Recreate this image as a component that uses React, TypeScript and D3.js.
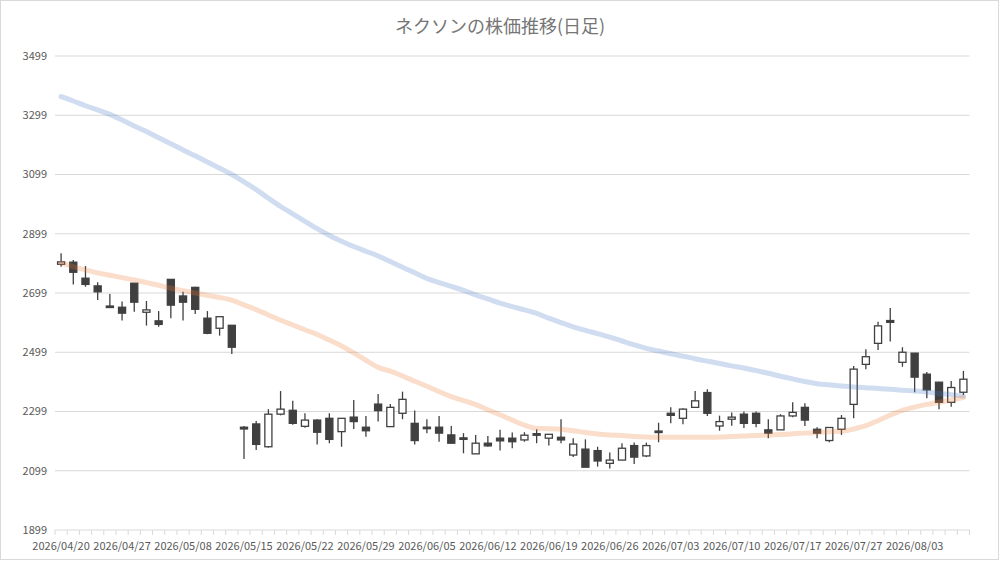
import React from "react"
import * as d3 from "d3"

// trading days shown on the category axis
const dates = [
  "2026/04/20", "2026/04/21", "2026/04/22", "2026/04/23", "2026/04/24",
  "2026/04/27", "2026/04/28", "2026/04/30", "2026/05/01", "2026/05/07",
  "2026/05/08", "2026/05/11", "2026/05/12", "2026/05/13", "2026/05/14",
  "2026/05/15", "2026/05/18", "2026/05/19", "2026/05/20", "2026/05/21",
  "2026/05/22", "2026/05/25", "2026/05/26", "2026/05/27", "2026/05/28",
  "2026/05/29", "2026/06/01", "2026/06/02", "2026/06/03", "2026/06/04",
  "2026/06/05", "2026/06/08", "2026/06/09", "2026/06/10", "2026/06/11",
  "2026/06/12", "2026/06/15", "2026/06/16", "2026/06/17", "2026/06/18",
  "2026/06/19", "2026/06/22", "2026/06/23", "2026/06/24", "2026/06/25",
  "2026/06/26", "2026/06/29", "2026/06/30", "2026/07/01", "2026/07/02",
  "2026/07/03", "2026/07/06", "2026/07/07", "2026/07/08", "2026/07/09",
  "2026/07/10", "2026/07/13", "2026/07/14", "2026/07/15", "2026/07/16",
  "2026/07/17", "2026/07/21", "2026/07/22", "2026/07/23", "2026/07/24",
  "2026/07/27", "2026/07/28", "2026/07/29", "2026/07/30", "2026/07/31",
  "2026/08/03", "2026/08/04", "2026/08/05", "2026/08/06", "2026/08/07",
]

const opens = [
  2796, 2803, 2749, 2723, 2655, 2651, 2732, 2634, 2605, 2745,
  2689, 2718, 2614, 2580, 2590, 2246, 2257, 2180, 2290, 2303,
  2249, 2270, 2276, 2231, 2280, 2246, 2324, 2248, 2293, 2259,
  2246, 2246, 2220, 2210, 2156, 2192, 2209, 2209, 2203, 2224,
  2209, 2212, 2152, 2172, 2167, 2124, 2135, 2184, 2149, 2233,
  2293, 2276, 2313, 2363, 2250, 2273, 2290, 2293, 2237, 2237,
  2284, 2313, 2239, 2201, 2239, 2323, 2458, 2529, 2606, 2465,
  2496, 2425, 2398, 2330, 2364,
]
const highs = [
  2833, 2810, 2790, 2735, 2696, 2670, 2732, 2672, 2638, 2745,
  2703, 2720, 2638, 2619, 2590, 2250, 2267, 2307, 2368, 2335,
  2293, 2273, 2293, 2276, 2338, 2284, 2358, 2324, 2366, 2302,
  2273, 2284, 2250, 2226, 2220, 2216, 2237, 2228, 2229, 2239,
  2222, 2273, 2209, 2205, 2180, 2161, 2192, 2194, 2194, 2261,
  2313, 2310, 2368, 2374, 2285, 2296, 2299, 2299, 2273, 2290,
  2330, 2327, 2246, 2245, 2287, 2453, 2509, 2602, 2648, 2516,
  2496, 2432, 2398, 2402, 2436,
]
const lows = [
  2788, 2728, 2720, 2675, 2652, 2606, 2636, 2589, 2585, 2614,
  2606, 2628, 2560, 2555, 2493, 2139, 2169, 2177, 2286, 2254,
  2244, 2188, 2192, 2180, 2240, 2214, 2265, 2248, 2273, 2188,
  2226, 2197, 2192, 2158, 2156, 2180, 2167, 2175, 2197, 2192,
  2184, 2192, 2145, 2111, 2113, 2107, 2135, 2122, 2145, 2195,
  2259, 2256, 2313, 2284, 2234, 2251, 2243, 2246, 2209, 2237,
  2280, 2250, 2209, 2195, 2220, 2276, 2442, 2507, 2535, 2450,
  2364, 2344, 2307, 2315, 2355,
]
const closes = [
  2804, 2769, 2728, 2703, 2652, 2631, 2668, 2642, 2593, 2658,
  2668, 2644, 2563, 2619, 2516, 2240, 2188, 2290, 2307, 2259,
  2270, 2229, 2205, 2276, 2265, 2234, 2302, 2313, 2340, 2201,
  2243, 2226, 2192, 2208, 2192, 2183, 2200, 2197, 2219, 2221,
  2222, 2203, 2189, 2111, 2132, 2135, 2175, 2145, 2184, 2229,
  2286, 2307, 2335, 2293, 2265, 2280, 2259, 2259, 2226, 2284,
  2296, 2270, 2226, 2245, 2276, 2442, 2484, 2588, 2600, 2499,
  2415, 2372, 2330, 2380, 2408,
]

// long moving average (blue)
const maLong = [
  3362, 3347, 3331, 3317, 3302, 3283, 3263, 3244, 3223, 3203,
  3182, 3162, 3141, 3120, 3099, 3074, 3048, 3019, 2991, 2966,
  2941, 2916, 2893, 2874, 2856, 2840, 2824, 2805, 2786, 2767,
  2748, 2734, 2721, 2708, 2693, 2679, 2665, 2653, 2642, 2630,
  2614, 2599, 2585, 2573, 2562, 2550, 2537, 2524, 2512, 2503,
  2494, 2486, 2477, 2469, 2461, 2453, 2446, 2437, 2428, 2418,
  2409, 2400, 2393, 2389, 2385, 2382, 2379, 2377, 2374, 2371,
  2368, 2365, 2360, 2356, 2351,
]
// short moving average (orange)
const maShort = [
  2800, 2788, 2777, 2767, 2759, 2751, 2743, 2734, 2725, 2715,
  2707, 2699, 2691, 2684, 2675, 2659, 2643, 2625, 2607, 2591,
  2575, 2559, 2540, 2520, 2497, 2472, 2448, 2435, 2419, 2401,
  2384, 2366, 2349, 2336, 2322, 2305, 2288, 2270, 2253, 2242,
  2241, 2239, 2234, 2228, 2223, 2220, 2218, 2215, 2213, 2212,
  2212, 2212, 2212, 2212, 2213, 2215, 2216, 2218, 2219, 2221,
  2224, 2226, 2228, 2231, 2232, 2240, 2251, 2268, 2287, 2303,
  2314, 2323, 2330, 2338, 2346,
]

const yTicks = [1899, 2099, 2299, 2499, 2699, 2899, 3099, 3299, 3499]

const title = "ネクソンの株価推移(日足)"

const W = 1000
const H = 561
const margin = { top: 56, right: 30.5, bottom: 31, left: 55 }
const font = "'Noto Sans CJK JP', 'Noto Sans', sans-serif"
const textColor = "#595959"
const gridColor = "#d9d9d9"
const candleColor = "#404040"

export default function App() {
  const innerRight = W - margin.right
  const innerBottom = H - margin.bottom

  const x = d3.scaleBand<string>().domain(dates).range([margin.left, innerRight])
  const y = d3.scaleLinear().domain([1899, 3499]).range([innerBottom, margin.top])
  const bw = x.bandwidth()
  const cx = (i: number) => (x(dates[i]) || 0) + bw / 2
  const bodyW = bw * 0.58

  const line = d3
    .line<number>()
    .x((_, i) => cx(i))
    .y((d) => y(d))
    .curve(d3.curveMonotoneX)

  return (
    <div style={{ position: "fixed", left: 0, top: 0 }}>
      <svg width={W} height={H} style={{ display: "block", background: "#fff" }}>
        <rect x={0.5} y={0.5} width={W - 2} height={H - 2} fill="#fff" stroke={gridColor} />

        <text x={W / 2} y={33} textAnchor="middle" fontFamily={font} fontSize={18} fill="#767676">
          {title}
        </text>

        {/* gridlines and y labels */}
        {yTicks.map((t) => (
          <g key={t}>
            <line x1={margin.left} x2={innerRight} y1={y(t)} y2={y(t)} stroke={gridColor} strokeWidth={1} />
            <text x={47} y={y(t)} dy="0.35em" textAnchor="end" fontFamily={font} fontSize={11} fill={textColor}>
              {t}
            </text>
          </g>
        ))}

        {/* category axis ticks */}
        {dates.map((d) => (
          <line
            key={d}
            x1={x(d) || 0}
            x2={x(d) || 0}
            y1={innerBottom}
            y2={innerBottom + 5}
            stroke={gridColor}
          />
        ))}
        <line x1={innerRight} x2={innerRight} y1={innerBottom} y2={innerBottom + 5} stroke={gridColor} />
        {dates.map((d, i) =>
          i % 5 === 0 ? (
            <text key={d} x={cx(i)} y={550} textAnchor="middle" fontFamily={font} fontSize={11} fill={textColor}>
              {d}
            </text>
          ) : null,
        )}

        {/* candles */}
        {dates.map((d, i) => {
          const o = opens[i]
          const c = closes[i]
          const up = c >= o
          const top = y(Math.max(o, c))
          const bot = y(Math.min(o, c))
          return (
            <g key={d}>
              <line x1={cx(i)} x2={cx(i)} y1={y(highs[i])} y2={y(lows[i])} stroke={candleColor} strokeWidth={1.3} />
              <rect
                x={cx(i) - bodyW / 2}
                y={top}
                width={bodyW}
                height={Math.max(bot - top, 1.5)}
                fill={up ? "#fff" : candleColor}
                stroke={candleColor}
                strokeWidth={1.3}
              />
            </g>
          )
        })}

        {/* moving averages */}
        <path d={line(maLong) || ""} fill="none" stroke="#4472C4" strokeOpacity={0.25} strokeWidth={5} strokeLinecap="round" />
        <path d={line(maShort) || ""} fill="none" stroke="#ED7D31" strokeOpacity={0.25} strokeWidth={5} strokeLinecap="round" />
      </svg>
    </div>
  )
}
